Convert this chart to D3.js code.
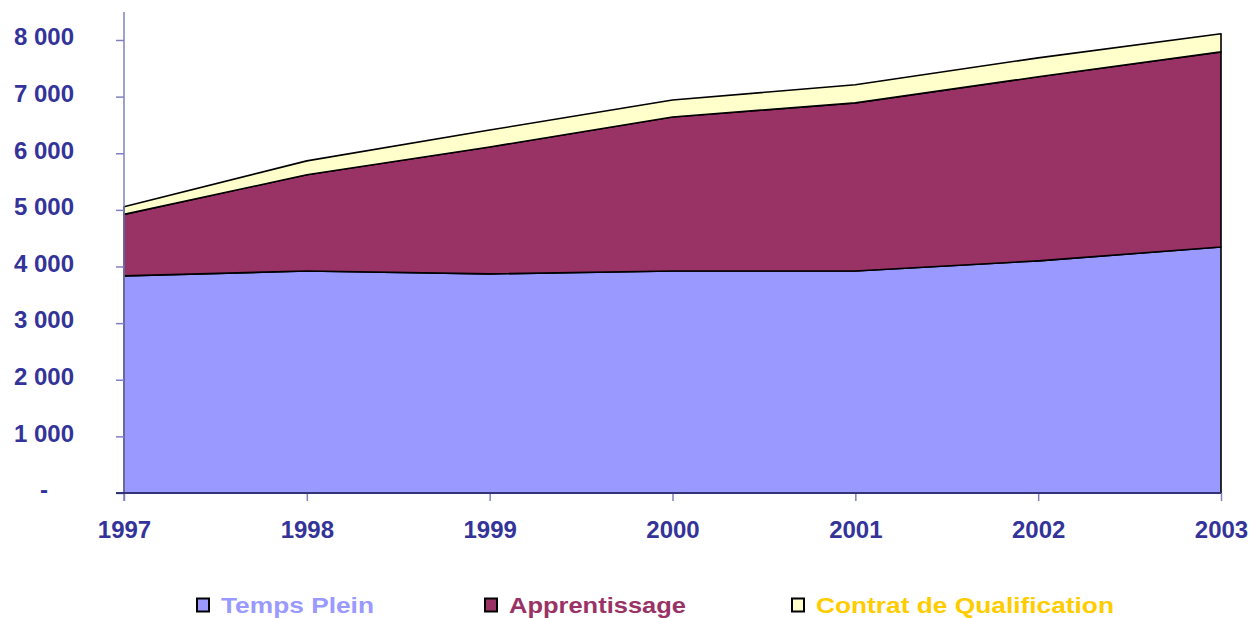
<!DOCTYPE html>
<html>
<head>
<meta charset="utf-8">
<script src="https://cdn.jsdelivr.net/npm/d3@7"></script>
<style>
  body { margin: 0; background: #fff; }
  svg { display: block; font-family: Arial, "Liberation Sans", sans-serif; }
</style>
</head>
<body>
<div id="chart"></div>
<script>
// data
const years = [1997, 1998, 1999, 2000, 2001, 2002, 2003];
const tempsPlein = [3835, 3920, 3870, 3920, 3920, 4100, 4345];
const apprentissage = [1085, 1700, 2240, 2720, 2970, 3250, 3445];
const contratQualif = [135, 245, 300, 300, 320, 335, 320];
const seriesNames = ["Temps Plein", "Apprentissage", "Contrat de Qualification"];
const yTicks = [0, 1000, 2000, 3000, 4000, 5000, 6000, 7000, 8000];

function init() {
    const w = 1251;
    const h = 618;
    const left = 124, right = 1221, top = 40, bottom = 493;

    const fills = ["#9999ff", "#993366", "#ffffcc"];
    const textColors = ["#9999ff", "#993366", "#ffcc00"];

    const table = years.map((y, i) => ({
        year: y,
        "Temps Plein": tempsPlein[i],
        "Apprentissage": apprentissage[i],
        "Contrat de Qualification": contratQualif[i]
    }));

    const stacked = d3.stack().keys(seriesNames)(table);

    const xScale = d3.scaleLinear()
        .domain(d3.extent(years))
        .range([left, right]);

    const yScale = d3.scaleLinear()
        .domain([0, 8000])
        .range([bottom, top]);

    const svg = d3.select("#chart")
        .append("svg")
        .attr("width", w)
        .attr("height", h);

    // stacked areas
    const area = d3.area()
        .x(d => xScale(d.data.year))
        .y0(d => yScale(d[0]))
        .y1(d => yScale(d[1]));

    svg.selectAll("path.layer")
        .data(stacked)
        .enter()
        .append("path")
        .attr("class", "layer")
        .attr("d", area)
        .attr("fill", (d, i) => fills[i])
        .attr("stroke", "#000")
        .attr("stroke-width", 1.6)
        .attr("stroke-linejoin", "round");

    // y axis
    const yAxis = d3.axisLeft(yScale)
        .tickValues(yTicks)
        .tickSize(8)
        .tickPadding(42)
        .tickFormat(d => d === 0 ? "-" : d3.format(",")(d).replace(/,/g, " "));

    const gy = svg.append("g")
        .attr("transform", `translate(${left},0)`)
        .call(yAxis);
    gy.select(".domain").remove();
    gy.selectAll(".tick line").attr("stroke", "#8080c0").attr("stroke-width", 1.5);
    gy.selectAll(".tick text")
        .attr("fill", "#333399")
        .attr("font-size", "24px")
        .attr("font-weight", "bold")
        .attr("font-family", "Arial, 'Liberation Sans', sans-serif")
        .attr("dy", "0.2em")
        .attr("dx", d => d === 0 ? -26 : 0);
    svg.append("line")
        .attr("x1", left).attr("x2", left)
        .attr("y1", 12).attr("y2", bottom + 8)
        .attr("stroke", "#8080c0").attr("stroke-width", 1.5);

    // x axis
    const xAxis = d3.axisBottom(xScale)
        .tickValues(years)
        .tickSize(8)
        .tickPadding(20)
        .tickFormat(d3.format("d"));

    const gx = svg.append("g")
        .attr("transform", `translate(0,${bottom})`)
        .call(xAxis);
    gx.select(".domain").remove();
    gx.selectAll(".tick line").attr("stroke", "#8080c0").attr("stroke-width", 1.5);
    gx.selectAll(".tick text")
        .attr("fill", "#333399")
        .attr("font-size", "24px")
        .attr("font-weight", "bold")
        .attr("font-family", "Arial, 'Liberation Sans', sans-serif");
    svg.append("line")
        .attr("x1", left - 8).attr("x2", right)
        .attr("y1", bottom).attr("y2", bottom)
        .attr("stroke", "#333377").attr("stroke-width", 1.8);

    // legend
    const legendX = [196, 484, 791];
    const legendW = [153, 177, 298];
    const legend = svg.selectAll("g.legend")
        .data(seriesNames)
        .enter()
        .append("g")
        .attr("class", "legend")
        .attr("transform", (d, i) => `translate(${legendX[i]},605)`);

    legend.append("rect")
        .attr("x", 1).attr("y", -6.5)
        .attr("width", 12).attr("height", 13)
        .attr("fill", (d, i) => fills[i])
        .attr("stroke", "#000")
        .attr("stroke-width", 2);

    legend.append("text")
        .attr("x", 25)
        .attr("y", 7.7)
        .attr("font-size", "22px")
        .attr("font-weight", "bold")
        .attr("fill", (d, i) => textColors[i])
        .attr("textLength", (d, i) => legendW[i])
        .attr("lengthAdjust", "spacingAndGlyphs")
        .text(d => d);
}

window.onload = init;
</script>
</body>
</html>
